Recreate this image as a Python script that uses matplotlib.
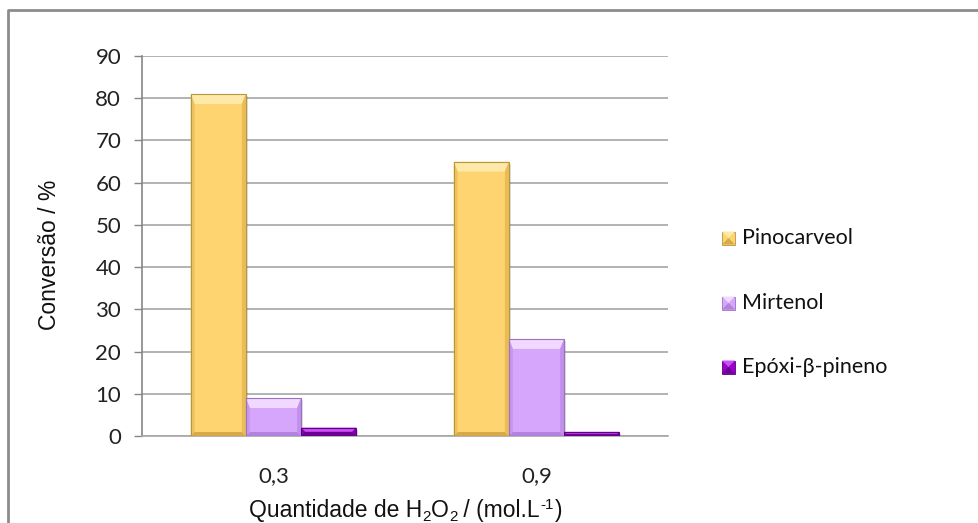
import matplotlib
matplotlib.use("Agg")
import matplotlib.pyplot as plt
from matplotlib.patches import Polygon, Rectangle
from matplotlib.lines import Line2D
import numpy as np

# data
categories = ["0,3", "0,9"]
series_names = ["Pinocarveol", "Mirtenol", "Epóxi-β-pineno"]
pinocarveol = [81, 65]
mirtenol = [9, 23]
epoxi = [2, 1]
series_values = [pinocarveol, mirtenol, epoxi]
y_ticks = [0, 10, 20, 30, 40, 50, 60, 70, 80, 90]

# face, top highlight, side shade, bottom shade, outline
palettes = [
    ("#FDD470", "#FFE9A8", "#E9BC55", "#D6AA48", "#B8963E"),
    ("#D6A6FD", "#F0D8FF", "#C190EC", "#B282DC", "#9A72C0"),
    ("#9A00CC", "#C850F2", "#7E00A8", "#6C0094", "#5E0080"),
]

W, H = 979, 523
fig = plt.figure(figsize=(W / 100, H / 100), dpi=100)
fig.patch.set_facecolor("white")

ax_l, ax_r, ax_t, ax_b = 142, 668, 56, 436
ax = fig.add_axes([ax_l / W, 1 - ax_b / H, (ax_r - ax_l) / W, (ax_b - ax_t) / H])
ax.set_xlim(-0.5, 1.5)
ax.set_ylim(0, 90)

px_x = 2.0 / (ax_r - ax_l)
px_y = 90.0 / (ax_b - ax_t)

bar_w = 0.21
n = len(series_values)
x = np.arange(len(categories))


def bevel_bar(ax, xc, h, pal):
    face, top, side, bottom, edge = pal
    x0, x1 = xc - bar_w / 2, xc + bar_w / 2
    hp = h / px_y
    bt = min(10, hp / 2) * px_y
    bs = min(4, hp / 2) * px_x
    bb = min(4, hp / 2) * px_y
    # soft drop shadow on the right
    ax.add_patch(Rectangle((x1, 0), 2 * px_x, h - 2 * px_y, facecolor="#000000",
                           alpha=0.12, edgecolor="none", zorder=2.5))
    ax.add_patch(Rectangle((x0, 0), bar_w, h, facecolor=face, edgecolor="none", zorder=3))
    # top highlight
    ax.add_patch(Polygon([(x0, h), (x1, h), (x1 - bs, h - bt), (x0 + bs, h - bt)],
                         closed=True, facecolor=top, edgecolor="none", zorder=3))
    # sides
    ax.add_patch(Polygon([(x0, 0), (x0, h), (x0 + bs, h - bt), (x0 + bs, bb)],
                         closed=True, facecolor=side, edgecolor="none", zorder=3, alpha=0.7))
    ax.add_patch(Polygon([(x1, 0), (x1, h), (x1 - bs, h - bt), (x1 - bs, bb)],
                         closed=True, facecolor=side, edgecolor="none", zorder=3))
    # bottom
    ax.add_patch(Polygon([(x0, 0), (x1, 0), (x1 - bs, bb), (x0 + bs, bb)],
                         closed=True, facecolor=bottom, edgecolor="none", zorder=3))
    ax.add_patch(Rectangle((x0, 0), bar_w, h, facecolor="none", edgecolor=edge,
                           linewidth=0.8, zorder=4))


for i, (vals, pal) in enumerate(zip(series_values, palettes)):
    offs = (i - (n - 1) / 2) * bar_w
    for xc, v in zip(x + offs, vals):
        bevel_bar(ax, xc, v, pal)

# grid and axes
ax.set_yticks(y_ticks)
ax.yaxis.grid(True, color="#A6A6A6", linewidth=1.2, zorder=0)
ax.set_axisbelow(True)
for s in ["top", "right"]:
    ax.spines[s].set_visible(False)
ax.spines["left"].set_color("#868686")
ax.spines["left"].set_linewidth(1.2)
ax.spines["bottom"].set_color("#A6A6A6")
ax.spines["bottom"].set_linewidth(1.2)
ax.tick_params(axis="y", length=6, width=1.0, color="#868686", pad=9,
               labelsize=16, labelcolor="#222222")
ax.tick_params(axis="x", length=0, pad=22, labelsize=16, labelcolor="#222222")
ax.set_xticks(x)
ax.set_xticklabels(categories)
for lab in ax.get_yticklabels() + ax.get_xticklabels():
    lab.set_fontfamily("Lato")

fig.text(50 / W, 1 - 255 / H, "Conversão / %", rotation=90, ha="center", va="center",
         fontsize=16.5, fontfamily="Liberation Sans", color="#111111")

# x-axis title with sub/superscripts composed from pieces
renderer = fig.canvas.get_renderer()
title_pieces = [
    ("Quantidade de H", 0, 0),
    ("2", -1, 0),
    ("O", 0, 0),
    ("2", -1, 0),
    (" / (mol.L", 0, 1),
    ("-1", 1, 1),
    (")", 0, 0),
]
base_fs = 16.5
small_fs = base_fs * 0.66
base_y = 517  # baseline in pixels from top
texts = []
total = 0.0
for s, kind, gap in title_pieces:
    fs = base_fs if kind == 0 else small_fs
    t = fig.text(0, 0, s, fontsize=fs, fontfamily="Liberation Sans", color="#111111",
                 ha="left", va="baseline")
    w = t.get_window_extent(renderer).width + gap
    texts.append((t, kind, w))
    total += w
xpos = 406 - total / 2
for t, kind, w in texts:
    dy = {0: 0, -1: 4, 1: -8}[kind]
    t.set_position((xpos / W, 1 - (base_y + dy) / H))
    xpos += w

# legend drawn as markers + labels in figure pixels
leg_y = [238, 303, 367]
for name, pal, yy in zip(series_names, palettes, leg_y):
    face, top, side, bottom, edge = pal
    s = 13
    x0, y0 = 722, yy - s / 2

    def P(px, py):
        return (px / W, 1 - py / H)

    fig.patches.append(Polygon([P(x0, y0), P(x0 + s, y0), P(x0 + s, y0 + s), P(x0, y0 + s)],
                               closed=True, facecolor=face, edgecolor=edge, linewidth=0.6,
                               transform=fig.transFigure))
    fig.patches.append(Polygon([P(x0, y0), P(x0 + s, y0), P(x0 + s / 2, y0 + s / 2)],
                               closed=True, facecolor=top, edgecolor="none",
                               transform=fig.transFigure))
    fig.patches.append(Polygon([P(x0, y0 + s), P(x0 + s, y0 + s), P(x0 + s / 2, y0 + s / 2)],
                               closed=True, facecolor=bottom, edgecolor="none",
                               transform=fig.transFigure))
    fig.text(742 / W, 1 - yy / H, name, ha="left", va="center", fontsize=15.5,
             fontfamily="Lato", color="#111111")

# chart frame
fig.lines.append(Line2D([8 / W, 8 / W, 1.0], [0.0, 1 - 10 / H, 1 - 10 / H],
                        transform=fig.transFigure, color="#8C8C8C", linewidth=2.0))

fig.savefig("out.png", dpi=100, facecolor="white")
